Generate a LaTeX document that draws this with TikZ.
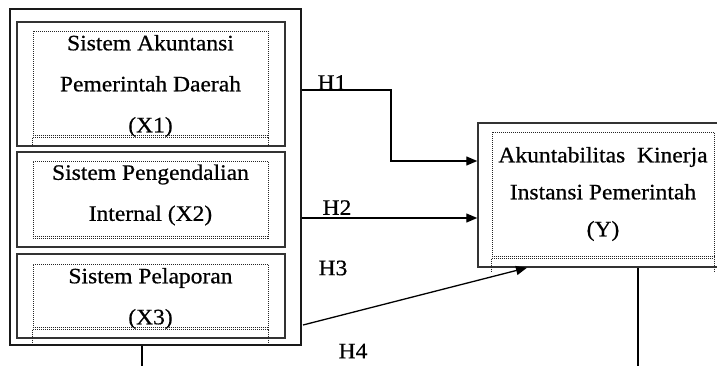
\documentclass[tikz,border=0pt]{standalone}
\usepackage{fontspec}
\setmainfont{Liberation Serif}[FakeStretch=1.07,FakeBold=0.6]
\usetikzlibrary{arrows.meta}
\begin{document}
\begin{tikzpicture}[x=1pt,y=-1pt,
  frame/.style={draw=black!90,line width=1.4pt,rectangle,inner sep=0pt},
  box/.style={draw=black!80,line width=1.8pt,rectangle,inner sep=0pt},
  dots/.style={draw=black!85,line width=1pt,dash pattern=on 1pt off 1pt,rectangle,inner sep=0pt},
  dotline/.style={draw=black!85,line width=1pt,dash pattern=on 1pt off 1pt},
  lbl/.style={font=\fontsize{22}{41}\selectfont,align=center,inner sep=0pt},
  tag/.style={font=\fontsize{22}{26}\selectfont,inner sep=0pt},
  conn/.style={line width=1.3pt,draw=black},
  arr/.style={conn,-{Triangle[length=11pt,width=9pt]}}]
\useasboundingbox (0,0) rectangle (717,365);
\clip (0,0) rectangle (717,365);
\fill[white] (0,0) rectangle (717,365);

% left group
\node[frame,minimum width=291pt,minimum height=336pt] (outer) at (155.5,177) {};
\node[box,minimum width=268pt,minimum height=124pt] (bx1) at (151,84) {};
\node[box,minimum width=268pt,minimum height=95pt] (bx2) at (151,199.5) {};
\node[box,minimum width=268pt,minimum height=84pt] (bx3) at (151,296) {};

\node[dots,minimum width=235pt,minimum height=106pt] (d1) at (150.5,84) {};
\draw[dotline] (d1.south west) -- ++(0,10);
\draw[dotline] (d1.south east) -- ++(0,10);
\draw[dotline] ([yshift=1.6pt]d1.south west) -- ([yshift=1.6pt]d1.south east);

\node[dots,minimum width=235pt,minimum height=77pt] (d2) at (150.5,199.5) {};
\draw[dotline] ([yshift=1.6pt]d2.south west) -- ([yshift=1.6pt]d2.south east);

\node[dots,minimum width=235pt,minimum height=65pt] (d3) at (150.5,296.5) {};
\draw[dotline] (d3.south west) -- ++(0,13);
\draw[dotline] (d3.south east) -- ++(0,13);
\draw[dotline] ([yshift=1.6pt]d3.south west) -- ([yshift=1.6pt]d3.south east);

\node[lbl] (t1) at (150.5,86) {Sistem Akuntansi\\Pemerintah Daerah\\(X1)};
\node[lbl] (t2) at (150.5,195) {Sistem Pengendalian\\Internal (X2)};
\node[lbl] (t3) at (150.5,298.5) {Sistem Pelaporan\\(X3)};

% right box
\node[box,line width=1.5pt,minimum width=247pt,minimum height=144pt] (ybox) at (601.5,195) {};
\node[dots,minimum width=222pt,minimum height=126pt] (dy) at (603,195) {};
\draw[dotline] (dy.south west) -- ++(0,14);
\draw[dotline] (dy.south east) -- ++(0,14);
\draw[dotline] ([yshift=1.6pt]dy.south west) -- ([yshift=1.6pt]dy.south east);
\node[lbl,font=\fontsize{22}{37}\selectfont] (ty) at (603,194) {Akuntabilitas\ \ Kinerja\\Instansi Pemerintah\\(Y)};

% connectors
\coordinate (h1s) at (outer.east |- 0,90);
\coordinate (h1k) at (391,90);
\draw[arr] (h1s) -- (h1k) |- (ybox.west |- 0,161);
\draw[arr] (outer.east |- 0,218) -- (ybox.west |- 0,218);
\coordinate (h3s) at (303,325);
\draw[arr] (h3s) -- (ybox.south west -| 527,0);
\coordinate (lb) at (142,370);
\coordinate (rb) at (638,370);
\draw[conn] (outer.south -| lb) -- (lb);
\draw[conn] (ybox.south -| rb) -- (rb);

% labels
\node[tag] (H1) at (332,82.5) {H1};
\node[tag] (H2) at (337,207.5) {H2};
\node[tag] (H3) at (333,268) {H3};
\node[tag] (H4) at (353,351) {H4};
\end{tikzpicture}
\end{document}
